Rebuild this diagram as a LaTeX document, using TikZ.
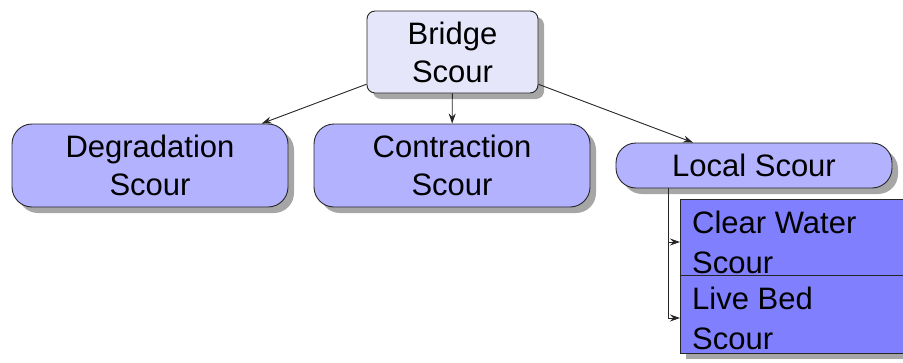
\documentclass[tikz,border=0pt]{standalone}
\usepackage{fontspec}
\setmainfont{Liberation Sans}
\usetikzlibrary{shadows,arrows.meta}
\definecolor{rootfill}{RGB}{230,230,250}
\definecolor{midfill}{RGB}{178,178,255}
\definecolor{leaffill}{RGB}{128,128,255}
\tikzset{
  base/.style={draw=black!85, line width=0.9pt, inner sep=0pt, align=center,
    font=\fontsize{31}{38}\selectfont,
    drop shadow={shadow xshift=6pt, shadow yshift=-6pt, fill=black!35, opacity=1}},
  rootbox/.style={base, fill=rootfill, rounded corners=8pt,
    minimum width=171pt, minimum height=82pt},
  midbox/.style={base, fill=midfill, rounded corners=20pt,
    minimum width=276pt, minimum height=83pt},
  localbox/.style={base, fill=midfill, rounded corners=20pt,
    minimum width=276pt, minimum height=45pt},
  leafbox/.style={base, fill=leaffill, rounded corners=0pt, anchor=west,
    minimum width=240pt},
  leaftext/.style={anchor=west, align=left, inner sep=0pt,
    font=\fontsize{31}{40}\selectfont},
  link/.style={draw=black!85, line width=0.9pt, -{Stealth[length=10pt,width=7pt]}}
}
\begin{document}
\begin{tikzpicture}[x=1pt, y=-1pt]
  \useasboundingbox (0,0) rectangle (903,362);
  % top level
  \node[rootbox] (root) at (452.5,52) {Bridge\\Scour};
  % three kinds of scour
  \node[midbox] (degr) at (150,165.5) {Degradation\\Scour};
  \node[midbox] (contr) at (452,165.5) {Contraction\\Scour};
  \node[localbox] (local) at (754,165.5) {Local Scour};
  % local scour subtypes: boxes, then their left-aligned labels
  \node[leafbox, minimum height=76pt] (clear) at (680,237) {};
  \node[leafbox, minimum height=78pt] (live) at (680,314) {};
  \node[leaftext] (cleartext) at (692,242) {Clear Water\\Scour};
  \node[leaftext] (livetext) at (692,318) {Live Bed\\Scour};
  \coordinate (trunk) at (668,188);
  % connectors
  \draw[link] (root) -- (degr);
  \draw[link] (root) -- (contr);
  \draw[link] (root) -- (local);
  \draw[link] (trunk) |- (clear.west |- cleartext.west);
  \draw[link] (trunk) |- (live.west |- livetext.west);
\end{tikzpicture}
\end{document}
